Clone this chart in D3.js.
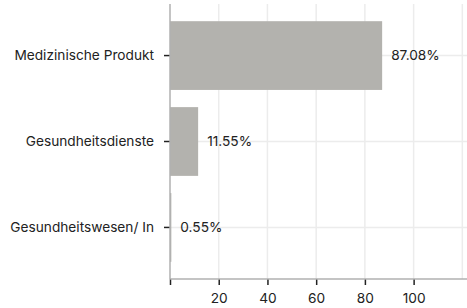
<!DOCTYPE html>
<html>
<head>
<meta charset="utf-8">
<title>Sektoren</title>
<script src="https://cdn.jsdelivr.net/npm/d3@7"></script>
<style>
body{ margin:0; background:#fff; }
svg text{ font-family: Inter, "Noto Sans", sans-serif; fill:#222; }
</style>
</head>
<body>
<svg id="chart" width="467" height="308"></svg>
<script>
var categories = ["Medizinische Produkt", "Gesundheitsdienste", "Gesundheitswesen/ In"];
var values = [87.08, 11.55, 0.55];
var labels = ["87.08%", "11.55%", "0.55%"];
var xTicks = [0, 20, 40, 60, 80, 100];
var gridTicks = [20, 40, 60, 80, 100, 120];

var svg = d3.select("#chart");
var mLeft = 170, mRight = 467, mTop = 4, mBottom = 279;
var fs = "13.7px";

var x = d3.scaleLinear().domain([0, d3.max(values) * 1.4]).range([mLeft, mRight]);
var y = d3.scaleBand().domain(categories).range([mTop, mBottom]).padding(0.2);

// grid
svg.append("g").selectAll("line").data(gridTicks).enter().append("line")
    .attr("x1", function(d){ return x(d); }).attr("x2", function(d){ return x(d); })
    .attr("y1", mTop).attr("y2", mBottom)
    .style("stroke", "#ececec").style("stroke-width", 1.5);
svg.append("g").selectAll("line").data(categories).enter().append("line")
    .attr("x1", mLeft).attr("x2", mRight)
    .attr("y1", function(d){ return y(d) + y.bandwidth() / 2; })
    .attr("y2", function(d){ return y(d) + y.bandwidth() / 2; })
    .style("stroke", "#ececec").style("stroke-width", 1.5);

// bars
svg.append("g").selectAll("rect").data(values).enter().append("rect")
    .attr("x", x(0))
    .attr("y", function(d, i){ return y(categories[i]); })
    .attr("width", function(d){ return x(d) - x(0); })
    .attr("height", y.bandwidth())
    .style("fill", "#b3b2ae");

// value labels
svg.append("g").selectAll("text").data(values).enter().append("text")
    .attr("x", function(d){ return x(d) + 9; })
    .attr("y", function(d, i){ return y(categories[i]) + y.bandwidth() / 2; })
    .attr("dy", "0.35em")
    .style("font-size", fs)
    .text(function(d, i){ return labels[i]; });

// axes
var xAxis = d3.axisBottom(x).tickValues(xTicks).tickSize(6).tickPadding(8)
    .tickFormat(function(d){ return d === 0 ? "" : d; });
var gx = svg.append("g").attr("transform", "translate(0," + mBottom + ")").call(xAxis);
gx.select(".domain").remove();
gx.selectAll(".tick line").style("stroke", "#222").style("stroke-width", 1.5);
gx.selectAll(".tick text").style("font-size", fs).style("fill", "#222").attr("font-family", null);

var yAxis = d3.axisLeft(y).tickSize(6).tickPadding(10);
var gy = svg.append("g").attr("transform", "translate(" + mLeft + ",0)").call(yAxis);
gy.select(".domain").remove();
gy.selectAll(".tick line").style("stroke", "#222").style("stroke-width", 1.5);
gy.selectAll(".tick text").style("font-size", fs).style("fill", "#222").attr("font-family", null);

// axis lines
svg.append("line").attr("x1", mLeft).attr("x2", mLeft).attr("y1", mTop).attr("y2", mBottom)
    .style("stroke", "#b0b0b0").style("stroke-width", 1.5);
svg.append("line").attr("x1", mLeft).attr("x2", mRight).attr("y1", mBottom).attr("y2", mBottom)
    .style("stroke", "#b0b0b0").style("stroke-width", 1.5);
</script>
</body>
</html>
